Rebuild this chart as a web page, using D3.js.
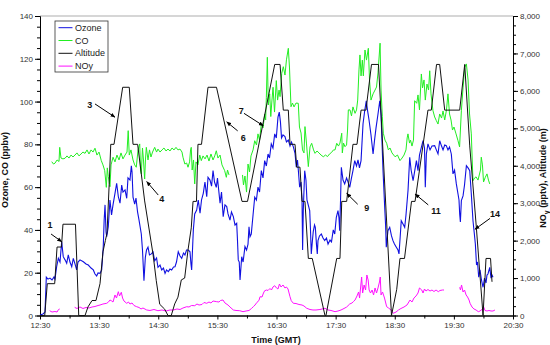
<!DOCTYPE html>
<html>
<head>
<meta charset="utf-8">
<script src="https://cdn.jsdelivr.net/npm/d3@7"></script>
<style>
  body { margin: 0; background: #fff; }
  svg { display: block; font-family: "Liberation Sans", Arial, sans-serif; }
</style>
</head>
<body>
<svg id="chart" width="550" height="345"></svg>
<script>
// time is in minutes after midnight (GMT)
let timeTicks = [750, 810, 870, 930, 990, 1050, 1110, 1170, 1230];
let timeLabels = ["12:30", "13:30", "14:30", "15:30", "16:30", "17:30", "18:30", "19:30", "20:30"];
let leftTicks = [0, 20, 40, 60, 80, 100, 120, 140];
let rightTicks = [0, 1000, 2000, 3000, 4000, 5000, 6000, 7000, 8000];

let seriesNames = ["Ozone", "CO", "Altitude", "NOy"];
let seriesColors = {
  "Ozone": "#1010e0",    // blue
  "CO": "#22ee22",       // green
  "Altitude": "#111111", // black
  "NOy": "#ff10ff"       // magenta
};

// ozone, ppbv
let ozone = [
  [750,0.2],[753,0.7],[755.1,1.6],[756.4,17.9],[758.1,17],[760.1,17.5],[762.2,16.6],[764.2,18],[765.2,17],
  [766.9,22.8],[768.6,26.7],[770.3,25],[772,34.5],[773.6,27.5],[775.4,26],[777.1,24.4],[778.7,28.3],[780.4,25],
  [782.2,22.8],[783.8,26.7],[785.5,24.1],[787.2,21.3],[788.6,25],[790.6,26],[794,25.1],[796.7,24.1],[799,23.6],
  [801.8,22.2],[804.1,21.3],[805.8,19.4],[807.5,18.5],[808.9,19.9],[810.9,19.7],[812.6,21.3],[814.2,32.2],
  [815.1,44.6],[816,51.7],[817,39],[817.7,36.8],[819.3,41.5],[821,54],[822.6,47],[824.1,51.7],[826.1,57.1],
  [827.8,61.8],[829.5,55.5],[831.2,52.5],[832.9,61],[834.2,57.7],[836.3,58.7],[838,54.8],[839.3,64.3],[841.3,63.3],
  [842.7,70],[843.4,67.1],[844.4,55.3],[846.1,52.1],[847.4,54.9],[849,48.4],[850.5,44.6],[852.8,38.1],[854,30.6],
  [855.5,16.3],[856.9,27.2],[858.1,30.6],[859.6,31.9],[861.1,28.3],[863,28.8],[864.7,29.7],[866.4,25.6],[868.3,26.9],
  [869.7,22.5],[871.8,23.6],[873.5,21.3],[875.3,22.2],[876.9,19.7],[878.4,21.3],[880.2,20.5],[881.9,21.7],[883.6,21.3],
  [885.5,22.7],[887,22.8],[888.5,25],[890.3,29.8],[892.1,27.8],[893.8,26.7],[895.6,29.2],[897.1,28.3],[898.7,30.6],
  [900.5,30.6],[902.2,29.8],[903.2,24.1],[903.9,21.3],[905.6,40],[907,47.5],[909,49.3],[910.6,54],[912.4,47.8],
  [913.9,54],[915.7,57.1],[917.4,62.4],[919.2,55.5],[920.5,64.6],[922.5,63.3],[924.1,60.5],[925.6,67.7],[927.1,62.4],
  [928.9,59.9],[930.1,64.3],[932.7,52.5],[934.2,57.7],[935.9,46.2],[937.7,51.7],[939.5,50.9],[940.8,47.5],[942.8,44.6],
  [944.3,48.4],[946.2,46.2],[947.9,42.3],[949.6,43.1],[950.4,35.3],[951.2,26],[952.2,25],[953,16.6],[954.7,27.5],
  [956.1,25],[958,32.2],[959.6,30.6],[961.1,33.4],[962.1,41.5],[963.1,36.8],[964.4,38.1],[966.2,47],[967.9,55.3],
  [969.6,54],[971.2,60],[972.8,57.7],[974.6,67.7],[976.3,64.3],[978,72.4],[979.7,69.9],[981.4,75.5],[982.9,73.6],
  [984.7,80.2],[986.4,78.3],[988.2,84.9],[989.8,83],[991.5,92.7],[992.8,95.1],[994,90.5],[995.1,83],[996.6,84.4],
  [998.6,83.6],[1000.1,81.1],[1002,82],[1003.7,79.2],[1005.2,81.1],[1007.1,78.8],[1008.8,75.8],[1010.1,69.3],
  [1011.3,72.7],[1012.3,67.1],[1013.5,60],[1014.9,62.4],[1015.9,54],[1016.5,30.6],[1017.2,49.3],[1018.6,67.7],
  [1019.9,63.3],[1020.9,54],[1022.2,51.7],[1023.7,49],[1024.5,40],[1025.3,28.8],[1026.5,35.3],[1027.3,39.2],
  [1028.6,42.3],[1029.4,41.2],[1030.6,33],[1031.4,28.8],[1032.1,35],[1033.6,37.2],[1035.5,38.1],[1037.2,36.2],
  [1038.9,35],[1040.7,36.2],[1042.3,33.4],[1044.3,35.3],[1045.8,34.4],[1047.6,40],[1049.1,38.1],[1050.7,45.9],
  [1052.4,49],[1053.4,45.6],[1054.1,39.6],[1055,54],[1055.8,69.3],[1057.5,63.3],[1059.2,61.5],[1061.1,64.3],
  [1062.6,62.4],[1064.3,59.9],[1066.1,64.3],[1067.6,67.7],[1069.4,72.4],[1071.2,69.9],[1072.7,72.7],[1074.2,69],
  [1075.8,72.4],[1077.8,89.5],[1079.5,95.7],[1081.1,100.4],[1082.3,96.1],[1083.9,91.4],[1085.9,84.4],[1088,75.5],
  [1089.5,82],[1091,87.7],[1093,94.2],[1094.8,100.4],[1096.1,93.7],[1098.1,67.7],[1099.8,50.6],[1100.7,42.3],
  [1101.4,31.9],[1103.1,39.6],[1104.9,41.2],[1106.7,37.2],[1108.2,35],[1109.7,33.4],[1111.6,31.9],[1113.3,30.6],
  [1114.3,28.8],[1115.3,35.3],[1116.6,44.3],[1118.4,42.8],[1120.1,41.2],[1121.4,47],[1123.5,58.7],[1125.2,74],
  [1126.6,68],[1128.6,63],[1130.1,67.1],[1132,72.4],[1133.6,67.7],[1135.1,75],[1137,78.6],[1138.7,81.7],[1140.2,78.3],
  [1141,60],[1142.1,75.5],[1143.7,80.2],[1145.8,77.4],[1147.8,79.2],[1150.5,79.4],[1152.2,77.4],[1153.9,75.5],
  [1155.6,81.7],[1157.5,79.2],[1159,77.4],[1160.7,79.7],[1162.3,79.4],[1164,77.4],[1165.6,78.8],[1167.4,75.5],
  [1169.1,66.2],[1170.7,68],[1172.5,61.5],[1174.2,56.8],[1175.2,54],[1175.9,47.5],[1176.6,43.7],[1177.6,53.7],
  [1179.3,55.9],[1180.8,61],[1182.7,70],[1184.4,69],[1186.1,67.7],[1187.7,56.8],[1189.4,44.3],[1190.6,39],
  [1191.8,33.4],[1193,23.6],[1194,25],[1195.2,17.9],[1196.5,21.3],[1198,16.6],[1199.6,13.2],[1201.1,17.5],
  [1202.6,15.2],[1203.6,18.9],[1204.6,19.4],[1206.4,22.5],[1207.7,17.5],[1208.7,18.9],[1209.7,17.9]
];

// CO, ppbv (null = no data)
let co = [
  [761.9,71.9],[763.7,70.8],[765.2,71.2],[767.3,72.7],[769.3,72],[770,78.6],[771.3,73.6],[773.3,73.2],[775.4,73.5],
  [777.4,74.6],[779.4,73.6],[781.5,75],[783.5,74.1],[785.5,75],[787.5,76],[789.6,74.6],[791.6,75.5],[793.6,76.4],
  [795.7,75.8],[797.7,77.4],[799.7,75.5],[801.8,77.4],[803.8,76.4],[805.8,78.2],[807.8,75],[809.9,76.4],[812.2,72.4],
  [813.9,70.4],[815.7,67.7],[817.3,59.9],[818.3,69],[819.3,64.9],[821,60.2],[822.1,70.4],[824.1,74],[826.1,71.8],
  [828.1,75],[830.2,72.7],[832.2,76],[834.2,73.2],[836.3,75],[838.3,76.4],[839.5,86.4],[840.6,75],[842.3,77.4],
  [844.4,72.7],[846.1,70.4],[847.7,69.3],[849.5,77.4],[851.2,80.2],[852,68],[852.8,66.2],[854,78.3],[855,72.7],
  [856.2,63.8],[857,72.7],[857.9,78.6],[859.6,72.7],[861.1,77.4],[862.6,74.1],[864.2,76.4],[866.4,78.6],[868.3,76.4],
  [869.7,77.8],[871.8,76.4],[873.8,77.4],[875.8,78.3],[877.9,76.9],[879.9,77.8],[881.9,76.9],[884,78.3],[886,77.4],
  [888,78.6],[890,77.4],[892.1,77.8],[894.1,76.4],[895.1,74],[897,70.8],[898.8,71.3],[900.2,69.3],[901.8,71.8],
  [902.8,77.4],[903.5,78.6],[904.4,68],[905.8,72.7],[907,61.5],[908.3,71.8],[910.3,70.4],[912.1,75],[913.7,72.4],
  [915.4,74.6],[917.5,73.2],[919.5,75],[921.5,72.2],[923.5,75.5],[925.6,72.7],[927.3,74.6],[928.9,77],[930.6,73.6],
  [932.7,75],[934.7,70.4],[937.4,67.7],[939.1,64.6],[940.3,68],[941.8,65.7],[948,null],
  [955.5,65.7],[956.5,61],[958,65.2],[959.6,57.7],[961.1,70.8],[962.6,67.1],[964.1,74.6],[966.2,77.4],[967.9,81.7],
  [969.7,79.7],[971.2,84.9],[972.8,82],[974.6,89.5],[976.3,87.7],[978,94.2],[979,91.4],[979.7,102],[980.7,120.7],
  [981.7,98.4],[983.1,103.6],[984.2,93],[985.4,100.7],[986.5,106.7],[988,95.1],[989.8,109.8],[991.1,100.7],
  [992.6,105.4],[993.6,102.3],[995.3,113.2],[996.9,116.3],[998.6,112.4],[1000.1,119.5],[1002,124.9],[1003.2,115.7],
  [1004.7,97.6],[1006.2,99.3],[1007.8,97.5],[1009.8,99.3],[1012.1,99.2],[1013.3,88.1],[1014.9,85.3],[1016.4,77.4],
  [1017.9,76],[1018.9,88.3],[1020.4,80.6],[1021.5,74.1],[1022.3,69.6],[1024,78.8],[1025.7,80.5],[1027.6,77.4],
  [1029.1,75.8],[1031.1,76.9],[1033.1,76],[1035.2,75],[1037.5,74.2],[1039.7,75],[1041.8,74.3],[1043.8,75.5],
  [1045.8,76.2],[1047.8,77.4],[1049.4,77.4],[1051.1,80.5],[1052.9,79.2],[1054.4,80.6],[1056.2,85.2],[1056.8,76],
  [1058,80.6],[1059.5,78.9],[1061.1,79.7],[1062.1,86.7],[1062.9,96.1],[1064.6,96.1],[1066.1,93.3],[1067.6,97.5],
  [1069.7,94.5],[1071.2,96.1],[1072.4,100.7],[1073.7,114.8],[1074.7,121.8],[1075.8,112],[1077.1,119.4],[1078.1,112],
  [1079.8,124.1],[1081.3,119.4],[1083.2,124.9],[1084.4,110.1],[1085.9,100.7],[1088,103.6],[1090,105.4],[1091.5,106.8],
  [1093,113.4],[1095.1,127.3],[1096.1,105.4],[1097.4,92.9],[1098.4,85.2],[1100.1,82],[1101.8,80.5],[1103.5,77.4],
  [1105.2,78.3],[1107.2,76],[1110.3,74.2],[1112.8,75],[1115.3,72.4],[1117.4,73.6],[1119.4,75],[1121.4,77.4],
  [1122.6,83],[1123.4,84.9],[1125,80.6],[1126,82],[1127.5,79.2],[1129,82],[1130.2,100.4],[1132.3,99.2],[1133.6,103.1],
  [1135.1,96.1],[1137,112.9],[1138.2,106.4],[1139.7,110.1],[1141,100.7],[1142.7,108.2],[1144.3,105.4],[1145.5,114.4],
  [1146.8,103.6],[1148.8,95.7],[1150.5,92.8],[1152.2,91.1],[1153.9,89.5],[1155.6,94.2],[1157.5,92.3],[1159,95.6],
  [1160.7,91.4],[1162.5,96.1],[1164,103.6],[1165.6,94.2],[1167.1,91.4],[1168.6,86.7],[1170.1,88.1],[1172.2,84.9],
  [1174.2,81.7],[1175.8,78.8],[1177.6,95.7],[1179.3,106.4],[1181,116],[1182.7,117.6],[1184.4,110.1],[1185.9,94.2],
  [1187.7,84.9],[1188.6,72.7],[1189.4,63],[1191,64.3],[1192.5,64.8],[1194.5,63.3],[1197,68],[1197.8,74],
  [1199,70.4],[1200.1,62.4],[1201.9,64.6],[1203.6,66.2],[1205.1,63.3],[1206.4,61.5]
];

// altitude, m
let altitude = [
  [750,0],[754.8,0],[757.4,850],[764.9,850],[767.3,1829],[771.8,1829],[773.3,2438],[786,2438],[789.3,0],[795.7,0],
  [798.7,230],[802.8,400],[806.8,400],[810.9,850],[813.9,1700],[816.3,2000],[818,2200],[820.2,3500],[821.8,4572],
  [825.1,4572],[833.9,6096],[840.6,6096],[844.4,4572],[849.1,4572],[856.2,3060],[864.7,1640],[868,930],[871.5,300],
  [876.5,170],[879.9,0],[883.2,0],[886.7,310],[890,490],[893.4,950],[896.8,1000],[900.2,1750],[903.5,2340],
  [905.3,3048],[908.8,3048],[910.3,4572],[913.9,4572],[920.5,6096],[929.1,6096],[955,3048],[960.6,3048],
  [988.2,6706],[993.6,6706],[996.9,5486],[1002,5486],[1003.7,4572],[1008.8,4572],[1010.5,3962],[1013.8,3962],
  [1015.9,3048],[1018.9,3048],[1022.3,1524],[1026.3,1524],[1039.2,0],[1040.2,0],[1051.1,1524],[1054.4,1524],
  [1056.2,3048],[1061.2,3048],[1067.6,4572],[1071.7,4572],[1075.8,5486],[1080.8,5486],[1086.4,6706],[1093.5,6706],
  [1106.7,0],[1112,700],[1115.3,1524],[1119.9,1524],[1127,3048],[1130.6,3048],[1143.7,5486],[1147.1,5486],
  [1152.4,6706],[1155.6,6706],[1160.7,5486],[1175.9,5486],[1181,6706],[1186.1,4530],[1192.8,2356],[1199.6,0],
  [1202.6,1524],[1207.2,1524],[1208.7,900]
];

// NOy, pptv (null = no data)
let noy = [
  [759.8,128],[762.2,93],[765.2,107],[767.3,93],[768.8,160],[770,174],[777,null],
  [785.2,219],[787.5,187],[790.6,227],[793.6,187],[796.7,214],[799.7,200],[802.8,227],[805.8,240],[808.9,267],
  [810.9,280],[813.9,307],[817.7,326],[819.5,360],[821,414],[822.4,395],[824.1,360],[826.1,548],[827.6,467],
  [829.5,636],[830.7,521],[832.5,620],[833.8,467],[835.2,387],[838,326],[839.8,360],[841.3,307],[843.4,334],
  [845.4,267],[848.1,235],[850.5,214],[852.5,174],[854.5,200],[858.3,147],[861.6,134],[865.7,160],[869.7,128],
  [873.8,147],[877.9,120],[881.9,147],[885.3,147],[889,174],[892.1,160],[895.1,200],[898.9,235],[901.2,227],
  [903.7,267],[907,262],[909.3,307],[911.4,280],[914.4,294],[916.4,347],[919.2,326],[921.5,360],[923.5,334],
  [925.6,387],[929.3,369],[931.6,360],[933.2,401],[935.7,414],[937.7,334],[940.8,280],[942.8,227],[946.2,147],
  [948.9,134],[952.7,128],[956,102],[959.1,120],[962.1,134],[964.6,187],[966.5,235],[968.2,280],[970.2,352],
  [972.2,401],[973.3,502],[975.3,494],[976.8,601],[978,662],[980.1,681],[981.4,668],[983.4,721],[984.9,681],
  [986.4,761],[988.2,796],[990,735],[991.5,708],[993,841],[994.6,761],[996.6,815],[998.6,735],[1000.1,761],
  [1001.7,708],[1003.7,502],[1005,395],[1007.1,326],[1009.8,320],[1012.8,294],[1015.9,280],[1017.9,254],
  [1020.7,192],[1024,160],[1027,147],[1030.1,147],[1034.1,160],[1039.2,192],[1042.3,147],[1045.3,134],[1049.4,102],
  [1052.4,120],[1055.5,147],[1058.5,187],[1061.2,227],[1064.3,307],[1066.6,334],[1068,369],[1069.7,414],
  [1071.7,521],[1073.3,628],[1074.3,467],[1076.4,1028],[1077.4,601],[1078.9,815],[1080.4,681],[1081.7,1082],
  [1083,948],[1084,681],[1085.4,601],[1087,681],[1088.5,548],[1090,735],[1091.5,601],[1093,735],[1094.5,895],
  [1095.3,1028],[1096.1,548],[1097.6,628],[1099.6,467],[1101.8,235],[1103.7,200],[1106.2,147],[1108.5,59],
  [1111.3,93],[1113.8,147],[1116.3,187],[1119.4,227],[1122.4,280],[1125.5,414],[1127.5,360],[1129.5,467],
  [1131.6,521],[1133.6,601],[1135.1,735],[1137.4,681],[1138.7,601],[1140.2,708],[1141.7,654],[1143.7,694],
  [1145.8,654],[1147.8,681],[1149.8,641],[1151.9,681],[1154.2,636],[1155.9,668],[1158.5,681],[1160,681],[1168,null],
  [1175.9,753],[1176.7,681],[1177.8,815],[1179.3,628],[1180.8,681],[1182.4,548],[1183.9,494],[1185.4,414],
  [1186.4,326],[1188.4,227],[1190.4,174],[1192.5,147],[1194.8,102],[1196.5,120],[1198.5,160],[1200.1,235],
  [1201.6,134],[1203.6,120],[1205.6,134],[1207.7,120],[1209.7,120],[1211.7,147]
];

// numbered arrows: label at [time, ppbv], arrow from tail to tip (left axis units)
let notes = [
  {label: "1",  at: [760.1, 40.7],  tail: [761.2, 38.1],  tip: [772, 34.5]},
  {label: "3",  at: [800.4, 97.1],  tail: [805.8, 98.9],  tip: [826.1, 92.7]},
  {label: "4",  at: [873.5, 52.9],  tail: [870, 56.3],    tip: [858.3, 62.6]},
  {label: "6",  at: [956.3, 81.7],  tail: [950.6, 86.3],  tip: [939.5, 90.5]},
  {label: "7",  at: [954.3, 94.1],  tail: [957, 94.5],    tip: [976.6, 88.7]},
  {label: "9",  at: [1081.6, 49],   tail: [1072.4, 52],   tip: [1061.2, 57.1]},
  {label: "11", at: [1151.9, 47.5], tail: [1144, 51.7],   tip: [1130.6, 56.8]},
  {label: "14", at: [1211.7, 45.9], tail: [1206.7, 45.4], tip: [1191.4, 40.3]}
];

let svg = d3.select("#chart");

let xScale = d3.scaleLinear().domain([750, 1230]).range([40, 513]);
let yLeft = d3.scaleLinear().domain([0, 140]).range([315.5, 16]);
let yRight = d3.scaleLinear().domain([0, 8000]).range([315.5, 16]);

// top frame line
svg.append("line")
  .attr("x1", 40).attr("x2", 513)
  .attr("y1", 16).attr("y2", 16)
  .attr("stroke", "#c8c8c8")
  .attr("stroke-width", 1.5);

// axes
function styleAxis(g) {
  g.selectAll("path").attr("stroke", "#000");
  g.selectAll("line").attr("stroke", "#000");
  g.selectAll("text")
    .style("font-family", "'Liberation Sans', Arial, sans-serif")
    .style("font-size", "8px")
    .attr("fill", "#333");
}

// minor ticks first
svg.append("g")
  .attr("transform", "translate(40,0)")
  .call(d3.axisLeft(yLeft).tickValues(d3.range(0, 141, 5)).tickSize(3).tickFormat("").tickSizeOuter(0))
  .call(styleAxis);
svg.append("g")
  .attr("transform", "translate(513,0)")
  .call(d3.axisRight(yRight).tickValues(d3.range(0, 8001, 250)).tickSize(3).tickFormat("").tickSizeOuter(0))
  .call(styleAxis);
svg.append("g")
  .attr("transform", "translate(0,315.5)")
  .call(d3.axisBottom(xScale).tickValues(d3.range(780, 1230, 60)).tickSize(3).tickFormat("").tickSizeOuter(0))
  .call(styleAxis);

svg.append("g")
  .attr("transform", "translate(40,0)")
  .call(d3.axisLeft(yLeft).tickValues(leftTicks).tickSize(5).tickPadding(2).tickSizeOuter(0))
  .call(styleAxis);
svg.append("g")
  .attr("transform", "translate(513,0)")
  .call(d3.axisRight(yRight).tickValues(rightTicks).tickSize(5).tickPadding(2).tickSizeOuter(0))
  .call(styleAxis);
svg.append("g")
  .attr("transform", "translate(0,315.5)")
  .call(d3.axisBottom(xScale).tickValues(timeTicks).tickSize(4).tickPadding(3).tickSizeOuter(0)
          .tickFormat((d, i) => timeLabels[i]))
  .call(styleAxis);

// axis titles
svg.append("text")
  .attr("transform", "translate(8,170) rotate(-90)")
  .attr("text-anchor", "middle")
  .style("font-size", "9px")
  .style("font-weight", "bold")
  .attr("fill", "#111")
  .text("Ozone, CO (ppbv)");

let rTitle = svg.append("text")
  .attr("transform", "translate(546,178) rotate(-90)")
  .attr("text-anchor", "middle")
  .style("font-size", "9px")
  .style("font-weight", "bold")
  .attr("fill", "#111");
rTitle.append("tspan").text("NO");
rTitle.append("tspan").attr("dy", 2.5).style("font-size", "7px").text("y");
rTitle.append("tspan").attr("dy", -2.5).text(" (pptv), Altitude (m)");

// the reference crops this title at the bottom edge; kept just inside
svg.append("text")
  .attr("x", 276).attr("y", 343)
  .attr("text-anchor", "middle")
  .style("font-size", "9px")
  .style("font-weight", "bold")
  .attr("fill", "#111")
  .text("Time (GMT)");

// lines
let lineLeft = d3.line()
  .defined(d => d[1] != null)
  .x(d => xScale(d[0]))
  .y(d => yLeft(d[1]));
let lineRight = d3.line()
  .defined(d => d[1] != null)
  .x(d => xScale(d[0]))
  .y(d => yRight(d[1]));

svg.append("path").datum(noy)
  .attr("d", lineRight)
  .attr("fill", "none").attr("stroke", seriesColors["NOy"]).attr("stroke-width", 1);
svg.append("path").datum(co)
  .attr("d", lineLeft)
  .attr("fill", "none").attr("stroke", seriesColors["CO"]).attr("stroke-width", 1);
svg.append("path").datum(ozone)
  .attr("d", lineLeft)
  .attr("fill", "none").attr("stroke", seriesColors["Ozone"]).attr("stroke-width", 1.1);
svg.append("path").datum(altitude)
  .attr("d", lineRight)
  .attr("fill", "none").attr("stroke", seriesColors["Altitude"]).attr("stroke-width", 1);

// arrows
svg.append("defs").append("marker")
  .attr("id", "head")
  .attr("viewBox", "0 0 10 10")
  .attr("refX", 9).attr("refY", 5)
  .attr("markerWidth", 5).attr("markerHeight", 5)
  .attr("orient", "auto")
  .append("path")
  .attr("d", "M0,1 L10,5 L0,9 Z")
  .attr("fill", "#000");

svg.selectAll(".note-arrow")
  .data(notes)
  .join("line")
  .attr("class", "note-arrow")
  .attr("x1", d => xScale(d.tail[0]))
  .attr("y1", d => yLeft(d.tail[1]))
  .attr("x2", d => xScale(d.tip[0]))
  .attr("y2", d => yLeft(d.tip[1]))
  .attr("stroke", "#000")
  .attr("stroke-width", 1)
  .attr("marker-end", "url(#head)");

svg.selectAll(".note-label")
  .data(notes)
  .join("text")
  .attr("class", "note-label")
  .attr("x", d => xScale(d.at[0]))
  .attr("y", d => yLeft(d.at[1]))
  .attr("text-anchor", "middle")
  .style("font-size", "9px")
  .style("font-weight", "bold")
  .attr("fill", "#111")
  .text(d => d.label);

// legend
let legend = svg.append("g").attr("transform", "translate(55,21)");
legend.append("rect")
  .attr("width", 53).attr("height", 51)
  .attr("fill", "#fff")
  .attr("stroke", "#333")
  .attr("stroke-width", 0.8);
seriesNames.forEach((name, i) => {
  let row = legend.append("g").attr("transform", "translate(0," + (6.7 + i * 12.8) + ")");
  row.append("line")
    .attr("x1", 3.5).attr("x2", 17.5)
    .attr("stroke", seriesColors[name]).attr("stroke-width", 1);
  row.append("text")
    .attr("x", 20).attr("y", 3)
    .style("font-size", "9px")
    .attr("fill", "#222")
    .text(name);
});
</script>
</body>
</html>
